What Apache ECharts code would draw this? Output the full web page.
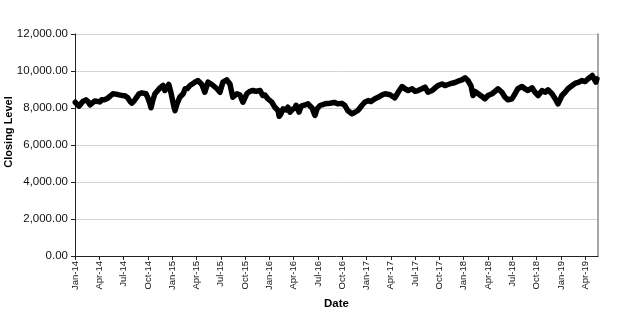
<!DOCTYPE html>
<html>
<head>
<meta charset="utf-8">
<script src="https://cdn.jsdelivr.net/npm/echarts@6/dist/echarts.min.js"></script>
<style>html,body{margin:0;padding:0;background:#fff}#c{width:622px;height:320px}</style>
</head>
<body>
<div id="c"></div>
<script>
const dates = ["2014-01-02","2014-01-08","2014-01-16","2014-01-23","2014-01-31","2014-02-11","2014-02-18","2014-02-25","2014-03-04","2014-03-15","2014-03-22","2014-04-03","2014-04-10","2014-04-18","2014-04-29","2014-05-10","2014-05-22","2014-06-03","2014-06-14","2014-06-25","2014-07-06","2014-07-17","2014-07-25","2014-08-02","2014-08-10","2014-08-21","2014-08-29","2014-09-09","2014-09-16","2014-09-24","2014-10-01","2014-10-09","2014-10-13","2014-10-20","2014-10-28","2014-11-04","2014-11-16","2014-11-27","2014-12-04","2014-12-12","2014-12-19","2014-12-27","2014-12-31","2015-01-08","2015-01-12","2015-01-19","2015-01-30","2015-02-11","2015-02-18","2015-02-25","2015-03-07","2015-03-14","2015-03-26","2015-04-06","2015-04-21","2015-05-02","2015-05-14","2015-05-21","2015-05-29","2015-06-17","2015-06-28","2015-07-09","2015-07-24","2015-08-05","2015-08-12","2015-08-16","2015-09-01","2015-09-12","2015-09-23","2015-10-08","2015-10-19","2015-10-31","2015-11-11","2015-11-26","2015-12-07","2015-12-15","2015-12-26","2016-01-11","2016-01-22","2016-02-03","2016-02-07","2016-02-14","2016-02-21","2016-03-03","2016-03-10","2016-03-18","2016-03-29","2016-04-06","2016-04-10","2016-04-21","2016-04-29","2016-05-10","2016-05-25","2016-06-09","2016-06-20","2016-06-28","2016-07-09","2016-07-28","2016-08-16","2016-09-01","2016-09-15","2016-09-30","2016-10-11","2016-10-22","2016-11-07","2016-11-18","2016-11-29","2016-12-14","2016-12-25","2017-01-07","2017-01-18","2017-02-02","2017-02-13","2017-02-27","2017-03-10","2017-03-29","2017-04-16","2017-04-28","2017-05-13","2017-05-24","2017-06-05","2017-06-20","2017-07-01","2017-07-12","2017-07-27","2017-08-08","2017-08-19","2017-09-04","2017-09-15","2017-09-26","2017-10-11","2017-10-22","2017-11-03","2017-11-18","2017-11-29","2017-12-10","2017-12-25","2018-01-06","2018-01-17","2018-01-29","2018-02-05","2018-02-12","2018-02-23","2018-03-09","2018-03-20","2018-04-01","2018-04-16","2018-04-27","2018-05-08","2018-05-23","2018-06-04","2018-06-15","2018-06-30","2018-07-11","2018-07-22","2018-08-07","2018-08-18","2018-08-30","2018-09-14","2018-09-25","2018-10-07","2018-10-22","2018-11-02","2018-11-13","2018-11-28","2018-12-10","2018-12-21","2019-01-05","2019-01-17","2019-01-28","2019-02-12","2019-02-23","2019-03-05","2019-03-20","2019-04-01","2019-04-12","2019-04-27","2019-05-04","2019-05-11","2019-05-15"];
const closing = [8310,8250,8100,8200,8350,8440,8350,8170,8250,8380,8280,8330,8450,8440,8500,8620,8770,8750,8710,8680,8660,8550,8370,8260,8380,8600,8770,8820,8850,8770,8550,8230,8010,8420,8770,8850,9090,9215,8950,9120,9270,8850,8770,8040,7860,8200,8580,8770,9040,9050,9215,9220,9395,9485,9270,8850,9395,9390,9270,9040,8850,9395,9520,9300,9380,8580,8770,8700,8310,8780,8900,8945,8900,8950,8675,8700,8500,8310,8040,7865,7550,7700,7950,7900,8040,7770,7950,8000,8150,7780,8100,8150,8225,8000,7595,7960,8135,8225,8260,8300,8225,8250,8135,7865,7685,7770,7865,8135,8310,8400,8350,8500,8580,8710,8770,8720,8550,8850,9160,9040,8945,9040,8900,8945,9040,9130,8850,8945,9090,9215,9300,9215,9270,9340,9380,9450,9520,9630,9485,9200,8675,8900,8770,8620,8500,8675,8770,8900,9040,8850,8580,8440,8500,8770,9040,9160,9040,8945,9090,8850,8675,8945,8850,8985,8770,8500,8225,8675,8850,9040,9215,9340,9380,9485,9430,9580,9755,9650,9395,9580];
const monthNames = ["Jan","Feb","Mar","Apr","May","Jun","Jul","Aug","Sep","Oct","Nov","Dec"];
const yTicks = [0,2000,4000,6000,8000,10000,12000];
const yTitle = 'Closing Level';
const xTitle = 'Date';

function monthIndex(s){
  const [y,m,d] = s.split('-').map(Number);
  const dim = new Date(y, m, 0).getDate();
  return (y-2014)*12 + (m-1) + (d-1)/dim;
}
const seriesData = dates.map((d,i)=>[monthIndex(d), closing[i]]);
const xMax = monthIndex("2019-05-19");
const FONT = 'Liberation Sans, Arial, sans-serif';

const chart = echarts.init(document.getElementById('c'), null, {renderer:'canvas'});
chart.setOption({
  animation:false,
  backgroundColor:'#fff',
  grid:{left:75,right:24,top:34,bottom:64,containLabel:false,outerBoundsMode:'none'},
  graphic:[{
    type:'text', x:9, y:132, rotation:Math.PI/2,
    style:{text:yTitle, fontFamily:FONT, fontWeight:'bold', fontSize:11, fill:'#000',
      align:'center', verticalAlign:'middle'}
  }],
  xAxis:{
    type:'value', min:0, max:xMax, interval:3,
    name:xTitle, nameLocation:'middle', nameGap:40,
    nameTextStyle:{fontFamily:FONT,fontWeight:'bold',fontSize:11.5,color:'#000'},
    axisLine:{show:true,onZero:false,lineStyle:{color:'#222',width:1}},
    axisTick:{show:true,length:4,lineStyle:{color:'#222'}},
    splitLine:{show:false},
    axisLabel:{rotate:90,margin:5,fontFamily:FONT,fontSize:9.5,color:'#111',showMaxLabel:false,
      formatter:v=>{const k=Math.round(v);return monthNames[k%12]+'-'+(14+Math.floor(k/12));}}
  },
  yAxis:[{
    type:'value', min:yTicks[0], max:yTicks[yTicks.length-1], interval:2000,
    axisLine:{show:true,lineStyle:{color:'#222',width:1}},
    axisTick:{show:true,length:4,lineStyle:{color:'#222'}},
    splitLine:{show:true,lineStyle:{color:'#d4d4d4',width:1}},
    axisLabel:{margin:7,fontFamily:FONT,fontSize:11.5,color:'#111',
      formatter:v=>v.toLocaleString('en-US',{minimumFractionDigits:2,maximumFractionDigits:2})}
  },{
    type:'value', min:0, max:12000, interval:2000, position:'right',
    axisLine:{show:true,lineStyle:{color:'#8a8a8a',width:1.5}},
    axisTick:{show:false}, axisLabel:{show:false}, splitLine:{show:false}
  }],
  series:[{
    type:'line', data:seriesData, showSymbol:false, smooth:false,
    lineStyle:{color:'#000',width:5.5,join:'round',cap:'round'},
    itemStyle:{color:'#000'}
  }]
});
</script>
</body>
</html>
